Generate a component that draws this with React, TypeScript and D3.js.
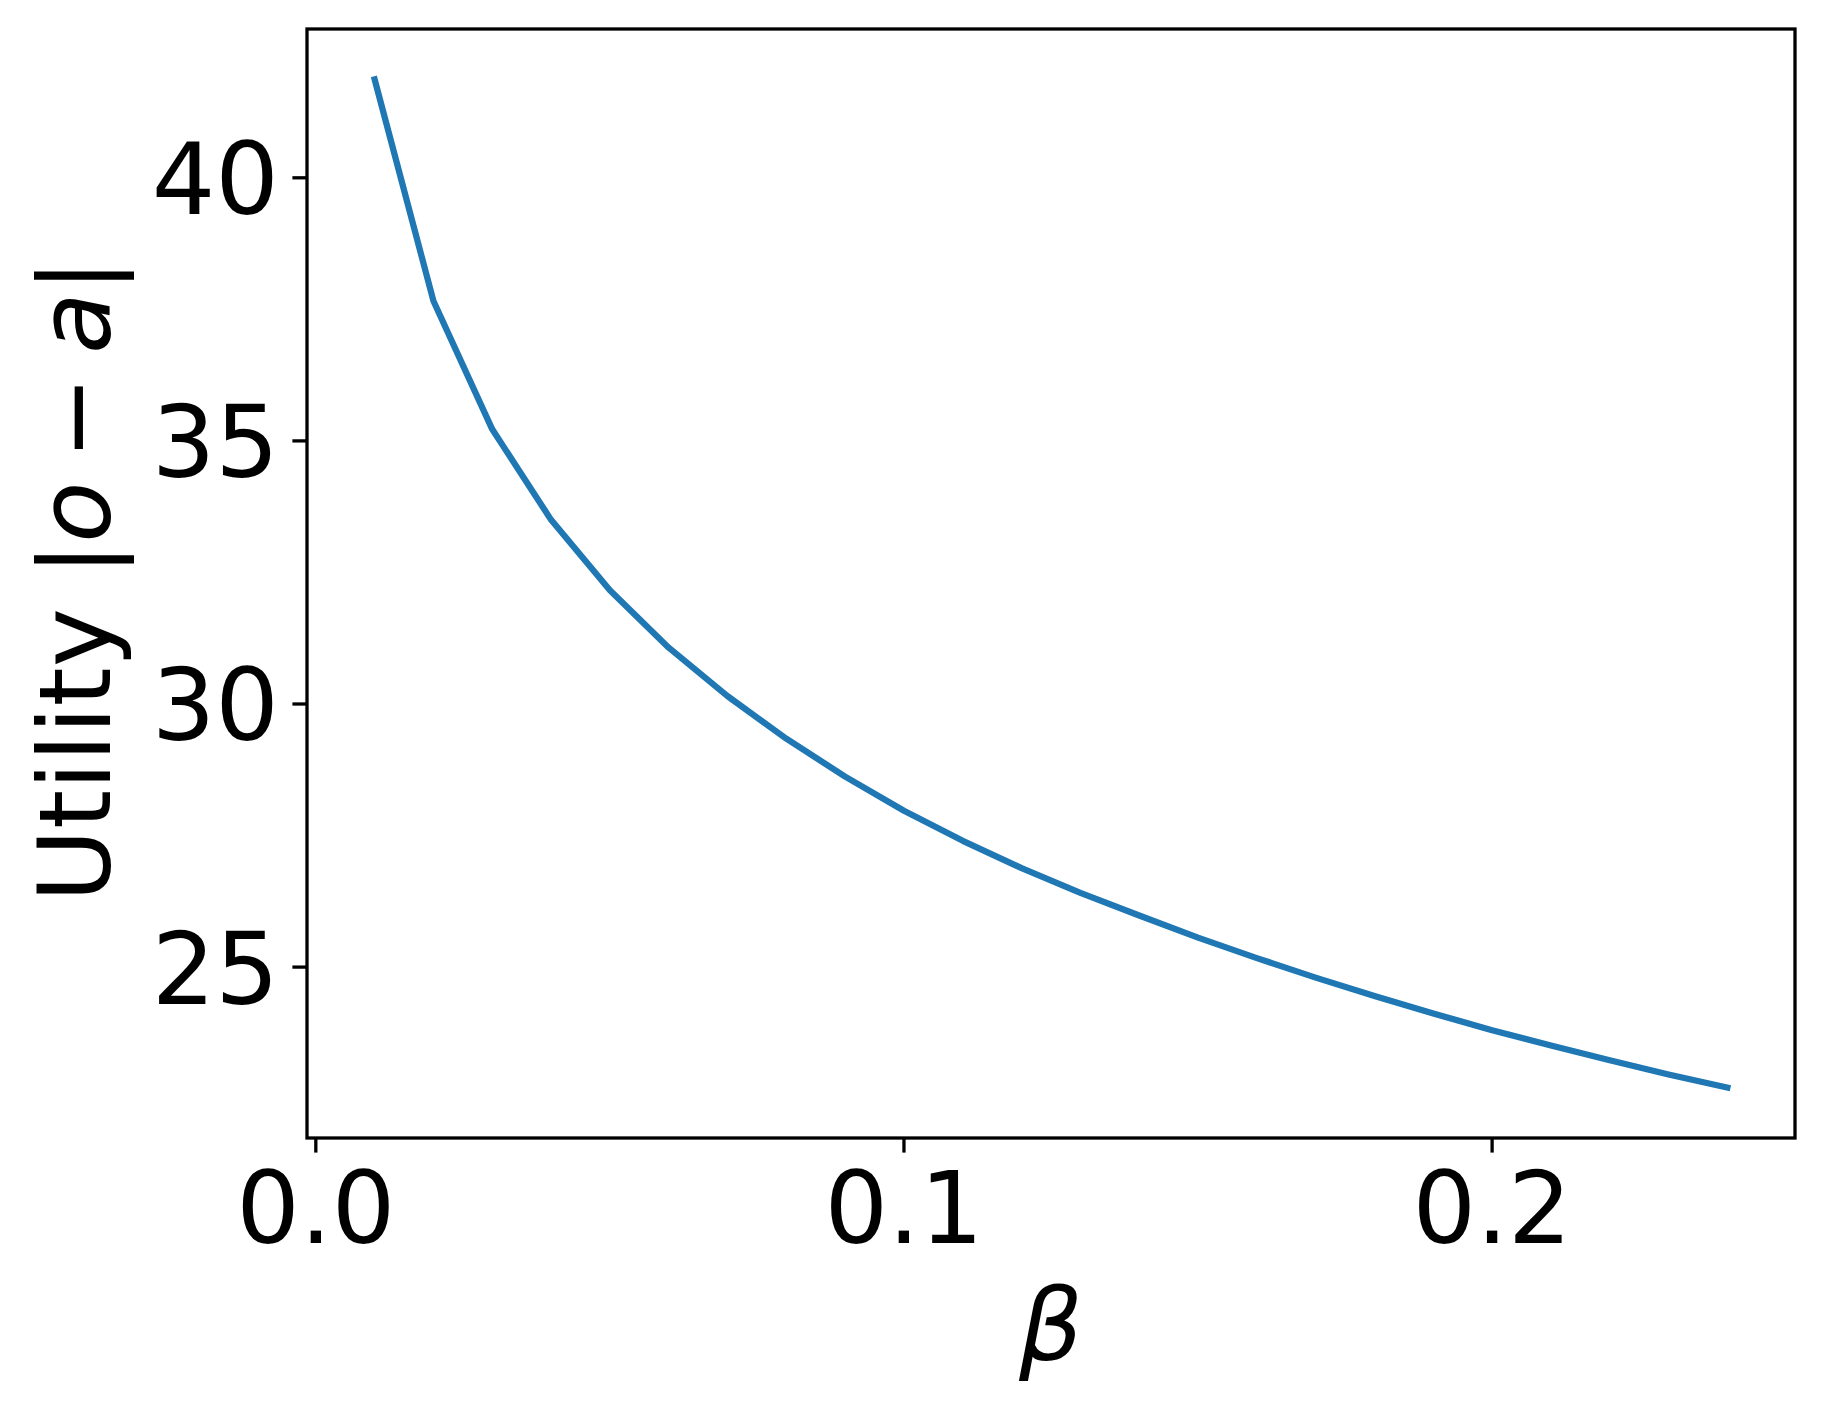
import React from "react";
import * as d3 from "d3";

const betaValues = [0.01, 0.02, 0.03, 0.04, 0.05, 0.06, 0.07, 0.08, 0.09, 0.10, 0.11, 0.12, 0.13, 0.14, 0.15, 0.16, 0.17, 0.18, 0.19, 0.20, 0.21, 0.22, 0.23, 0.24];
const utilityValues = [41.87, 37.66, 35.22, 33.50, 32.16, 31.07, 30.15, 29.34, 28.62, 27.97, 27.40, 26.88, 26.41, 25.98, 25.56, 25.17, 24.80, 24.45, 24.12, 23.80, 23.51, 23.23, 22.96, 22.71];
const xTicks = [0.0, 0.1, 0.2];
const yTicks = [25, 30, 35, 40];

const W = 1825;
const H = 1413;
const left = 307, right = 1795, top = 29, bottom = 1138;
const FONT = "'DejaVu Sans', sans-serif";
const FS = 100;
const TICK = 14.6;
const LW = 3.3;

export default function App() {
  const xMin = d3.min(betaValues)!, xMax = d3.max(betaValues)!;
  const yMin = d3.min(utilityValues)!, yMax = d3.max(utilityValues)!;
  const xm = (xMax - xMin) * 0.05, ym = (yMax - yMin) * 0.05;
  const x = d3.scaleLinear().domain([xMin - xm, xMax + xm]).range([left, right]);
  const y = d3.scaleLinear().domain([yMin - ym, yMax + ym]).range([bottom, top]);
  const data = betaValues.map((b, i) => [b, utilityValues[i]] as [number, number]);
  const line = d3.line<[number, number]>().x(d => x(d[0])).y(d => y(d[1]));

  return (
    <svg width={W} height={H} style={{ position: "absolute", left: 0, top: 0, display: "block", background: "#fff" }}>
      <rect x={0} y={0} width={W} height={H} fill="#fff" />
      <path d={line(data) || ""} fill="none" stroke="#1f77b4" strokeWidth={6.25} strokeLinejoin="round" strokeLinecap="square" />
      <rect x={left} y={top} width={right - left} height={bottom - top} fill="none" stroke="#000" strokeWidth={LW} />
      {xTicks.map(t => (
        <g key={"x" + t}>
          <line x1={x(t)} x2={x(t)} y1={bottom} y2={bottom + TICK} stroke="#000" strokeWidth={LW} />
          <text x={x(t)} y={1243} textAnchor="middle" fontFamily={FONT} fontSize={FS} fill="#000">{t.toFixed(1)}</text>
        </g>
      ))}
      {yTicks.map(t => (
        <g key={"y" + t}>
          <line x1={left - TICK} x2={left} y1={y(t)} y2={y(t)} stroke="#000" strokeWidth={LW} />
          <text x={279} y={y(t) + 36.5} textAnchor="end" fontFamily={FONT} fontSize={FS} fill="#000">{t}</text>
        </g>
      ))}
      <text x={(left + right) / 2} y={1360} textAnchor="middle" fontFamily={FONT} fontSize={FS} fontStyle="italic" fill="#000">β</text>
      <text transform={`translate(110, ${(top + bottom) / 2 - 3}) rotate(-90)`} textAnchor="middle" fontFamily={FONT} fontSize={FS} fill="#000">
        <tspan>Utility |</tspan>
        <tspan fontStyle="italic">o</tspan>
        <tspan dx={22}>−</tspan>
        <tspan dx={22} fontStyle="italic">a</tspan>
        <tspan>|</tspan>
      </text>
    </svg>
  );
}
